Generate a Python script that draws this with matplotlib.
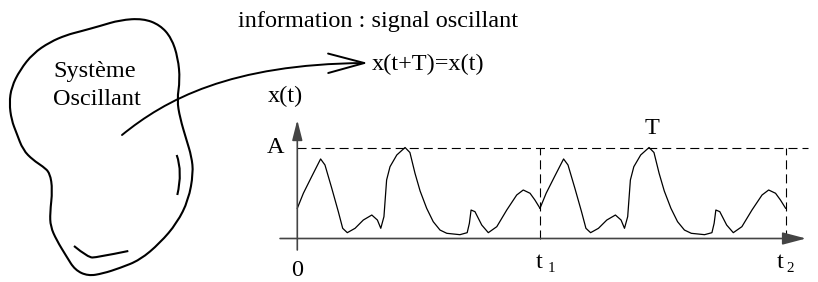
import numpy as np
import matplotlib
matplotlib.use("Agg")
import matplotlib.pyplot as plt
from matplotlib.path import Path
from matplotlib.patches import FancyArrowPatch, PathPatch

plt.rcParams['font.family'] = ['Liberation Serif', 'DejaVu Serif']
plt.rcParams['lines.scale_dashes'] = False

W, H, DPI = 818, 282, 100

# one period of the oscillating signal: phase (0..1) and amplitude (A = 1)
phase = [0.000, 0.025, 0.059, 0.096, 0.114, 0.142, 0.169, 0.187, 0.206, 0.238,
         0.272, 0.307, 0.330, 0.344, 0.357, 0.368, 0.382, 0.410, 0.444, 0.464,
         0.485, 0.506, 0.533, 0.560, 0.588, 0.616, 0.670, 0.700, 0.709, 0.716,
         0.732, 0.760, 0.787, 0.822, 0.863, 0.904, 0.931, 0.959, 0.979, 1.000]
amp = [0.332, 0.497, 0.679, 0.874, 0.808, 0.552, 0.295, 0.112, 0.064, 0.112,
       0.203, 0.258, 0.203, 0.112, 0.240, 0.643, 0.789, 0.918, 1.000, 0.945,
       0.716, 0.522, 0.332, 0.185, 0.093, 0.057, 0.042, 0.064, 0.167, 0.313,
       0.295, 0.148, 0.064, 0.130, 0.313, 0.478, 0.533, 0.497, 0.423, 0.332]

# time marks (in units of the first period) and their labels
t_marks = [0.0, 1.0, 2.012]
t_names = ['0', 't', 't']
t_subs = ['', '1', '2']

# outline of the "system" blob and its two inner strokes (pixels)
blob_x = [100, 120, 143, 160, 171.5, 178, 180, 177, 180, 186.5, 191.5, 193.3,
          188.5, 177, 160, 140, 120, 103, 88, 75, 66.5, 56.5, 50.5, 50, 52.5,
          50, 43, 33, 23, 16.5, 11.5, 9.3, 11.5, 20, 33, 50, 66.5, 80]
blob_y = [26, 20, 18.5, 25, 38, 58, 80, 100, 118, 140, 156.5, 173,
          200, 223, 243, 260, 268, 273.5, 276, 270, 256.5, 240, 226.5, 213, 190,
          173, 166.5, 160, 150, 133, 120, 103, 87, 70, 53.5, 42, 35, 31.5]
stroke1_x = [176.7, 182.7, 177.3]
stroke1_y = [155, 171.7, 195]
stroke2_x = [74, 88, 96.7, 128.3]
stroke2_y = [246, 257.5, 257.5, 251]

# curved arrow from the system to the equation (bezier control points)
arrow_pts = [(122, 135), (165, 100), (230, 64), (368, 63)]


def smooth_path(xs, ys, closed):
    # quadratic b-spline through the midpoints, the points act as controls
    pts = list(zip(xs, ys))
    mid = lambda a, b: ((a[0] + b[0]) / 2, (a[1] + b[1]) / 2)
    if closed:
        verts = [mid(pts[-1], pts[0])]
        codes = [Path.MOVETO]
        for i in range(len(pts)):
            verts += [pts[i], mid(pts[i], pts[(i + 1) % len(pts)])]
            codes += [Path.CURVE3, Path.CURVE3]
    else:
        verts = [pts[0]]
        codes = [Path.MOVETO]
        for i in range(1, len(pts) - 1):
            verts += [pts[i], mid(pts[i], pts[i + 1]) if i < len(pts) - 2 else pts[-1]]
            codes += [Path.CURVE3, Path.CURVE3]
    return Path(verts, codes)


fig = plt.figure(figsize=(W / DPI, H / DPI), dpi=DPI)

# pixel-space axes for the free drawing
ax = fig.add_axes([0, 0, 1, 1])
ax.set_xlim(0, W)
ax.set_ylim(H, 0)
ax.axis('off')

ax.add_patch(PathPatch(smooth_path(blob_x, blob_y, True), fc='none', ec='k', lw=1.5))
ax.add_patch(PathPatch(smooth_path(stroke1_x, stroke1_y, False), fc='none', ec='k', lw=1.5))
ax.add_patch(PathPatch(smooth_path(stroke2_x, stroke2_y, False), fc='none', ec='k', lw=1.5))

arrow = FancyArrowPatch(path=Path(arrow_pts, [Path.MOVETO, Path.CURVE4, Path.CURVE4, Path.CURVE4]),
                        arrowstyle='->,head_length=2.6,head_width=0.7',
                        mutation_scale=10, color='k', lw=1.4)
ax.add_patch(arrow)

fs = 17.5
ax.text(238, 26.7, 'information : signal oscillant', fontsize=fs, va='baseline', ha='left')
ax.text(371.7, 70, 'x(t+T)=x(t)', fontsize=fs, va='baseline', ha='left')
ax.text(53.3, 76.7, 'Système', fontsize=fs, va='baseline', ha='left')
ax.text(53.3, 105, 'Oscillant', fontsize=fs, va='baseline', ha='left')

# signal axes: origin at (297.3, 238.5) px, one period = 242.7 px, A = 91 px
ox, oy, per, apx = 297.3, 238.5, 242.7, 91.0
axs = fig.add_axes([0, 0, 1, 1])
axs.set_xlim(-ox / per, (W - ox) / per)
axs.set_ylim(-(H - oy) / apx, oy / apx)
axs.axis('off')
axs.patch.set_alpha(0)

for k in range(len(t_marks) - 1):
    t0, t1 = t_marks[k], t_marks[k + 1]
    axs.plot(t0 + np.array(phase) * (t1 - t0), amp, color='k', lw=0.9,
             solid_joinstyle='round')

dash = (0, (6.5, 3.6))
axs.plot([0, 2.104], [1, 1], color='k', lw=0.8, linestyle=dash)
for t in t_marks[1:]:
    axs.plot([t, t], [0, 1], color='k', lw=0.8, linestyle=dash)

axs.annotate('', xy=(2.096, 0), xytext=(-0.071, 0),
             arrowprops=dict(arrowstyle='-|>,head_length=1.44,head_width=0.38',
                             mutation_scale=10, color='#444444', lw=1.2,
                             shrinkA=0, shrinkB=0))
axs.annotate('', xy=(0, 1.302), xytext=(0, -0.126),
             arrowprops=dict(arrowstyle='-|>,head_length=1.22,head_width=0.31',
                             mutation_scale=10, color='#444444', lw=1.2,
                             shrinkA=0, shrinkB=0))

# tick labels: "0", "t 1", "t 2" (t slightly raised, index set lower)
name_dx = [0, -1, -5.7]
name_dy = [-37, -30, -30]
sub_dx = [0, 8, 1]
for t, name, sub, ndx, ndy, sdx in zip(t_marks, t_names, t_subs, name_dx, name_dy, sub_dx):
    axs.annotate(name, (t, 0), xytext=(ndx, ndy), textcoords='offset pixels',
                 fontsize=fs, ha='center', va='baseline')
    if sub:
        axs.annotate(sub, (t, 0), xytext=(sdx, -33.5), textcoords='offset pixels',
                     fontsize=fs * 0.62, ha='left', va='baseline')

axs.annotate('A', (0, 1), xytext=(-22, -5.5), textcoords='offset pixels',
             fontsize=fs, ha='center', va='baseline')
axs.annotate('T', (t_marks[1] + 0.46, 1), xytext=(0, 13), textcoords='offset pixels',
             fontsize=fs, ha='center', va='baseline')
axs.annotate('x(t)', (0, 1), xytext=(-30, 45), textcoords='offset pixels',
             fontsize=fs, ha='left', va='baseline')

fig.savefig('out.png', dpi=DPI)
